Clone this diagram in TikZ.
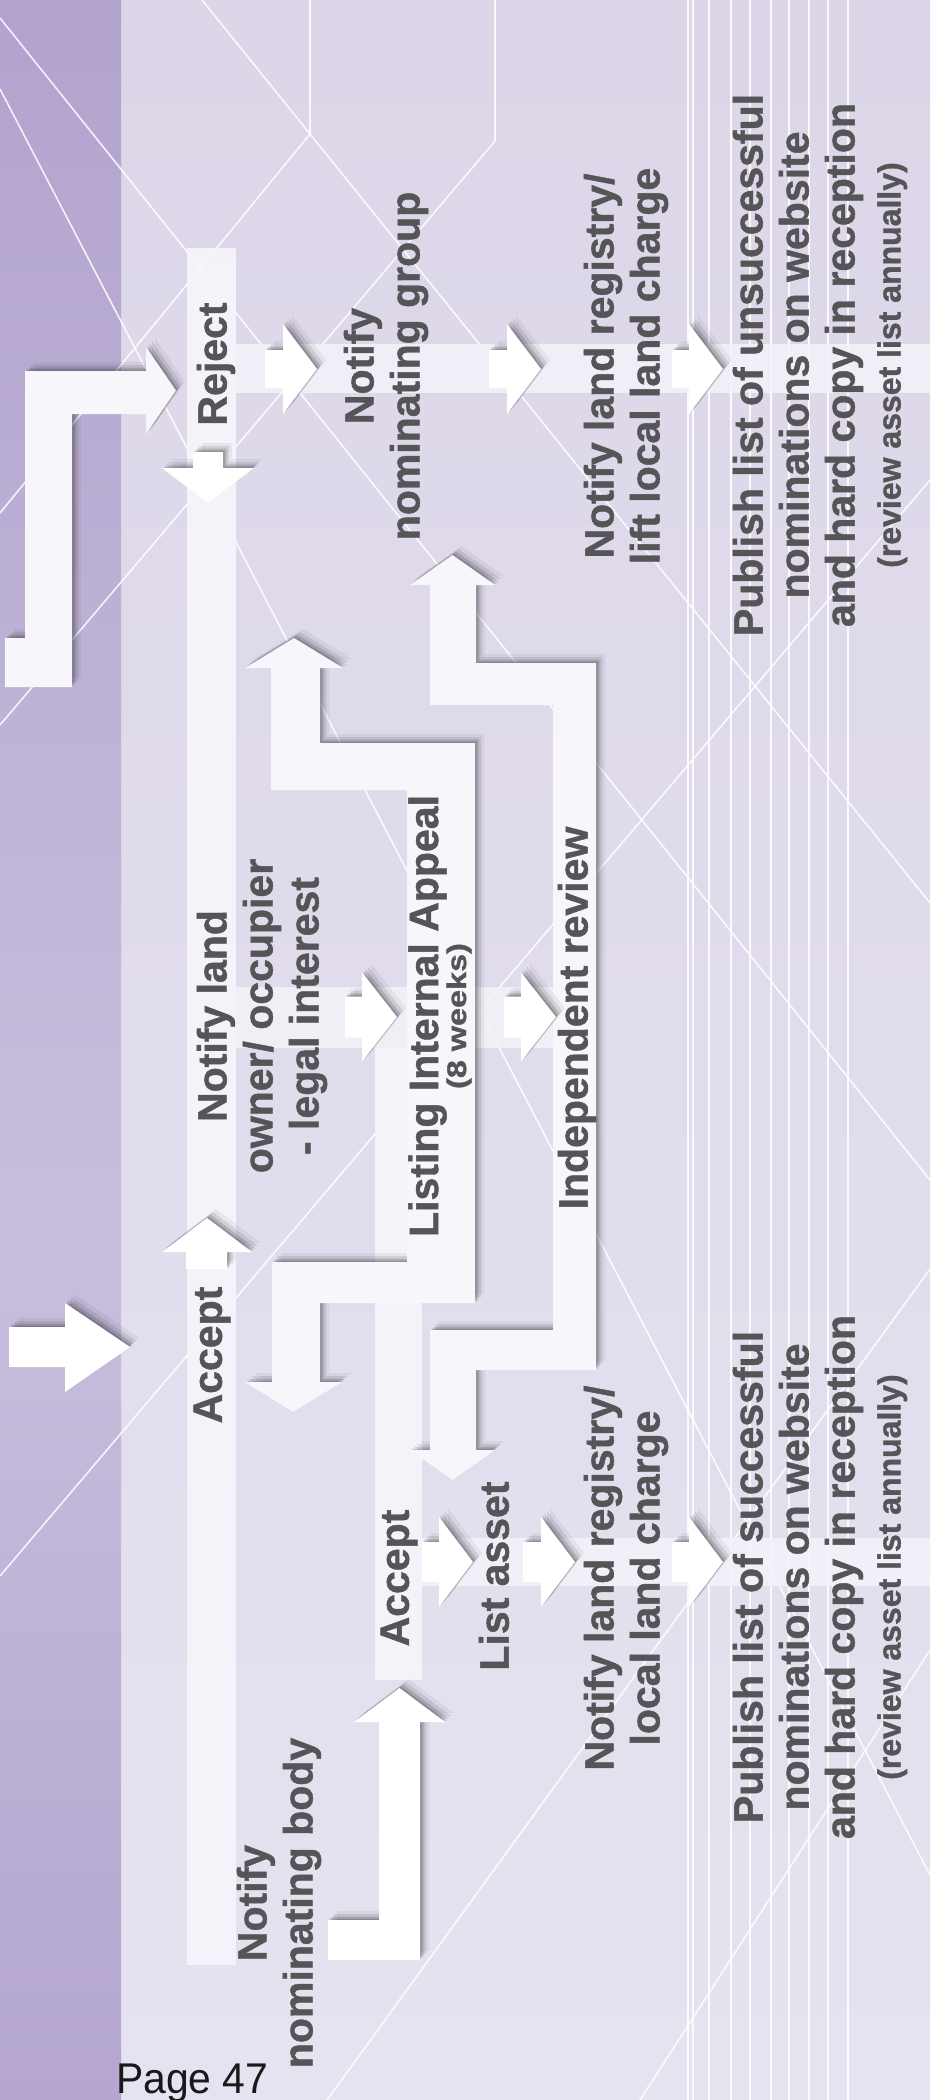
\documentclass[tikz,border=0pt]{standalone}
\usepackage{fontspec}
\setmainfont{Liberation Sans}[BoldFeatures={FakeBold=1.1}]
\usepackage{graphicx}
\usetikzlibrary{shadows}
\definecolor{bgtop}{HTML}{DCD6E8}
\definecolor{bgmid}{HTML}{E0DBEB}
\definecolor{bgbot}{HTML}{E6E2EF}
\definecolor{striptop}{HTML}{B2A3CE}
\definecolor{stripmid}{HTML}{C7BEDC}
\definecolor{stripbot}{HTML}{B4A6D0}
\definecolor{barcol}{HTML}{F7F6FB}
\definecolor{bandcol}{HTML}{F4F2F9}
\definecolor{arrowoff}{HTML}{F7F6FA}
\definecolor{shadowcol}{HTML}{3A3A42}
\definecolor{txtgray}{HTML}{555557}
\tikzset{
  bgline/.style={draw=white, line width=1.6pt, opacity=0.85},
  vline/.style={draw=white, line width=1.4pt, opacity=0.85},
  barfill/.style={fill=barcol, opacity=0.9},
  bandfill/.style={fill=bandcol, opacity=0.85},
  blockarrow/.style={fill=white,
    general shadow={fill=shadowcol, opacity=0.25, shadow xshift=1.5pt, shadow yshift=1.5pt},
    general shadow={fill=shadowcol, opacity=0.2, shadow xshift=3.5pt, shadow yshift=3.5pt},
    general shadow={fill=shadowcol, opacity=0.13, shadow xshift=6pt, shadow yshift=6pt},
    general shadow={fill=shadowcol, opacity=0.07, shadow xshift=9pt, shadow yshift=9pt}},
  lbl/.style={rotate=90, text=txtgray, font=\bfseries\fontsize{41}{46}\selectfont, align=center, inner sep=0pt},
}
\newcommand{\blockR}[6]{\fill[blockarrow] (#1,#4-#5) -- (#2,#4-#5) -- (#2,#4-#6) -- (#3,#4) -- (#2,#4+#6) -- (#2,#4+#5) -- (#1,#4+#5) -- cycle;}
\begin{document}
\begin{tikzpicture}[x=1pt,y=-1pt]
\useasboundingbox (0,0) rectangle (930,2100);
% background
\shade[top color=bgtop, middle color=bgmid, bottom color=bgbot] (0,0) rectangle (930,2100);
\shade[top color=striptop, bottom color=stripmid] (0,0) rectangle (121,1250);
\shade[top color=stripmid, bottom color=stripbot] (0,1249) rectangle (121,2100);
% decorative lines
\draw[bgline] (0,18) -- (930,1180);
\draw[bgline] (0,89) -- (930,1875);
\draw[bgline] (202,0) -- (310,134) -- (930,903);
\draw[bgline] (310,0) -- (310,134) -- (0,513);
\draw[bgline] (495,0) -- (495,141) -- (0,725);
\draw[bgline] (0,1576) -- (930,480);
\draw[bgline] (327,2100) -- (930,1269);
\draw[bgline] (640,2100) -- (930,1650);
\foreach \vx in {688,693,709,731,750,771,789,809,828,848}
  \draw[vline] (\vx,0) -- (\vx,2100);
% bars and bands
\fill[barfill] (187,248) rectangle (236,1965);
\fill[barfill] (375,1048) rectangle (422,1680);
\fill[bandfill] (236,344) rectangle (930,393);
\fill[bandfill] (236,987) rectangle (555,1048);
\fill[bandfill] (422,1538) rectangle (930,1586);
% block arrows
\fill[blockarrow, fill=arrowoff] (5,687) -- (72,687) -- (72,414) -- (146,414) -- (146,434) -- (176,390.5) -- (146,347) -- (146,371) -- (25,371) -- (25,638) -- (5,638) -- cycle;
\fill[blockarrow] (193,452) -- (223,452) -- (223,468) -- (254,468) -- (208,503) -- (162,468) -- (193,468) -- cycle;
\fill[blockarrow] (207,1218) -- (252,1252) -- (227,1252) -- (227,1269) -- (186,1269) -- (186,1252) -- (162,1252) -- cycle;
\fill[blockarrow] (9,1327) -- (65,1327) -- (65,1303) -- (130,1347) -- (65,1392) -- (65,1367) -- (9,1367) -- cycle;
\fill[blockarrow, fill=arrowoff] (294,638) -- (343,668) -- (320,668) -- (320,743) -- (475,743) -- (475,1303) -- (320,1303) -- (320,1382) -- (342,1382) -- (293,1412) -- (245,1382) -- (272,1382) -- (272,1262) -- (407,1262) -- (407,790) -- (271,790) -- (271,668) -- (245,668) -- cycle;
\fill[blockarrow, fill=arrowoff] (452.5,555) -- (495,585) -- (476,585) -- (476,663) -- (596,663) -- (596,1370) -- (476,1370) -- (476,1450) -- (495,1450) -- (452.5,1480) -- (410,1450) -- (430,1450) -- (430,1330) -- (553,1330) -- (553,705) -- (430,705) -- (430,585) -- (410,585) -- cycle;
\fill[blockarrow] (399.5,1688) -- (445,1722) -- (420,1722) -- (420,1960) -- (328,1960) -- (328,1920) -- (379,1920) -- (379,1722) -- (354,1722) -- cycle;
\blockR{265}{283}{317}{369}{19}{45}
\blockR{489}{507}{541}{369}{19}{45}
\blockR{672}{689}{723}{369}{19}{45}
\blockR{345}{362}{397}{1017}{20.5}{44.5}
\blockR{504}{521}{556}{1017}{20.5}{44.5}
\blockR{422}{439}{473}{1562}{20}{45}
\blockR{523}{541}{575}{1562}{20}{45}
\blockR{672}{689}{723}{1562}{20}{45}
% labels
\node[lbl] (reject) at (216,364) {Reject};
\node[lbl] (nng) at (386,366) {Notify\\nominating group};
\node[lbl] (nlr1) at (626,366) {Notify land registry/\\lift local land charge};
\node[lbl] (pub1) at (820,365) {Publish list of unsuccessful\\nominations on website\\and hard copy in reception\\{\fontsize{32}{46}\selectfont (review asset list annually)}};
\node[lbl] (nlo) at (262,1016) {Notify land\\owner/ occupier\\- legal interest};
\node[lbl] (lia) at (440,1016) {Listing Internal Appeal\\[-18pt]{\fontsize{27}{46}\selectfont\scalebox{1.2}[1]{(8 weeks)}}};
\node[lbl] (indep) at (577,1018) {Independent review};
\node[lbl] (acc1) at (212,1355) {Accept};
\node[lbl] (acc2) at (399,1578) {Accept};
\node[lbl] (list) at (494,1576) {List asset};
\node[lbl] (nlr2) at (626,1578) {Notify land registry/\\local land charge};
\node[lbl] (pub2) at (820,1577) {Publish list of successful\\nominations on website\\and hard copy in reception\\{\fontsize{32}{46}\selectfont (review asset list annually)}};
\node[lbl] (nnb) at (279,1903) {Notify\\nominating body};
\node[anchor=base west, font=\fontsize{43}{48}\selectfont, text=black!90, inner sep=0pt] (page) at (116,2093) {\scalebox{0.95}[1]{Page 47}};
\end{tikzpicture}
\end{document}
